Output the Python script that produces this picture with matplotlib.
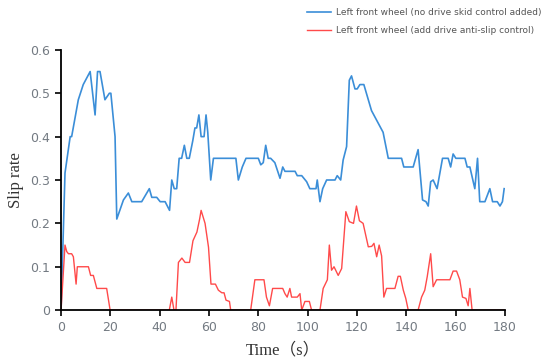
import numpy as np
import matplotlib
matplotlib.use("Agg")
import matplotlib.pyplot as plt

# no drive skid control (blue)
t_blue = [0, 1.6, 3.7, 4.3, 7, 9, 11.8, 13.8, 14.8, 15.8, 17.8, 19.6, 20.2, 21.9,
          22.6, 25.3, 27.3, 28.7, 32.7, 35.8, 36.8, 38.8, 40.2, 42.2, 44.0, 44.9,
          45.9, 46.9, 47.9, 48.9, 50.0, 51.0, 52.0, 53.4, 54.3, 55.0, 55.9, 56.8,
          58.0, 58.8, 59.5, 60.7, 61.8, 70.9, 71.9, 73.5, 75.0, 80.0, 81.0, 82.0,
          83.0, 84.0, 85.0, 86.7, 88.8, 89.9, 90.8, 94.9, 95.8, 97.6, 99.6, 100.9,
          103.4, 103.9, 105.0, 106.1, 107.7, 111.1, 112.0, 113.4, 114.4, 115.8,
          116.9, 117.8, 119.2, 120.1, 121.2, 122.8, 125.9, 130.6, 132.7, 138.1,
          139.0, 142.8, 144.8, 146.6, 148.0, 148.9, 149.9, 150.9, 152.5, 154.7,
          157.0, 158.0, 159.0, 160.1, 163.8, 164.7, 165.8, 167.8, 168.9, 169.8,
          171.9, 173.9, 175.0, 176.9, 178.0, 179.0, 179.7]
s_blue = [0, 0.316, 0.40, 0.40, 0.485, 0.52, 0.55, 0.45, 0.55, 0.55, 0.485, 0.50,
          0.50, 0.40, 0.21, 0.254, 0.27, 0.25, 0.25, 0.28, 0.26, 0.26, 0.25, 0.25,
          0.23, 0.30, 0.28, 0.28, 0.35, 0.35, 0.38, 0.35, 0.35, 0.39, 0.42, 0.42,
          0.45, 0.40, 0.40, 0.45, 0.41, 0.30, 0.35, 0.35, 0.30, 0.33, 0.35, 0.35,
          0.335, 0.34, 0.38, 0.35, 0.35, 0.34, 0.304, 0.33, 0.32, 0.32, 0.31, 0.31,
          0.296, 0.28, 0.28, 0.30, 0.25, 0.28, 0.30, 0.30, 0.31, 0.30, 0.346, 0.377,
          0.53, 0.54, 0.51, 0.51, 0.52, 0.52, 0.46, 0.41, 0.35, 0.35, 0.33, 0.33,
          0.37, 0.254, 0.25, 0.24, 0.296, 0.30, 0.28, 0.35, 0.35, 0.33, 0.36, 0.35,
          0.35, 0.33, 0.33, 0.28, 0.35, 0.25, 0.25, 0.28, 0.25, 0.25, 0.24, 0.25,
          0.28]

# with drive anti-slip control (red)
t_red = [0, 1.6, 2.3, 3.0, 4.3, 5.0, 6.1, 6.6, 11.1, 12.0, 13.1, 14.5, 18.5, 19.9,
         43.9, 44.9, 45.8, 46.6, 47.6, 49.0, 50.3, 52.1, 53.5, 55.1, 56.2, 56.8,
         58.4, 59.8, 60.8, 62.6, 63.8, 65.2, 66.1, 66.9, 68.3, 68.8, 76.9, 78.6,
         82.3, 83.3, 84.5, 85.8, 89.9, 90.8, 91.7, 92.8, 93.5, 95.8, 96.9, 97.6,
         98.9, 100.7, 101.6, 105.0, 106.3, 108.0, 108.8, 109.7, 110.7, 112.4,
         113.8, 115.5, 116.9, 118.6, 119.8, 121.0, 122.5, 124.6, 126.0, 126.9,
         128.0, 129.0, 130.0, 130.9, 132.0, 135.4, 136.7, 137.6, 138.8, 139.8,
         140.8, 144.8, 146.2, 147.5, 148.5, 149.9, 150.9, 152.3, 157.7, 159.0,
         160.4, 161.7, 162.8, 164.2, 165.1, 165.8, 166.7, 180]
s_red = [0, 0.15, 0.135, 0.13, 0.13, 0.123, 0.06, 0.10, 0.10, 0.08, 0.08, 0.05,
         0.05, 0, 0, 0.03, 0, 0, 0.11, 0.12, 0.11, 0.11, 0.16, 0.18, 0.21, 0.23,
         0.20, 0.145, 0.06, 0.06, 0.046, 0.04, 0.04, 0.023, 0.02, 0, 0, 0.07,
         0.07, 0.03, 0.01, 0.05, 0.05, 0.038, 0.03, 0.05, 0.03, 0.03, 0.038, 0,
         0.02, 0.02, 0, 0, 0.05, 0.07, 0.15, 0.092, 0.10, 0.08, 0.096, 0.227,
         0.204, 0.20, 0.24, 0.206, 0.20, 0.146, 0.147, 0.154, 0.123, 0.15, 0.125,
         0.03, 0.05, 0.05, 0.078, 0.078, 0.046, 0.027, 0, 0, 0.03, 0.046, 0.077,
         0.13, 0.054, 0.07, 0.07, 0.09, 0.09, 0.07, 0.03, 0.027, 0.01, 0.05, 0, 0]

x_ticks = [0, 20, 40, 60, 80, 100, 120, 140, 160, 180]
y_ticks = [0, 0.1, 0.2, 0.3, 0.4, 0.5, 0.6]
y_tick_labels = ["0", "0.1", "0.2", "0.3", "0.4", "0.5", "0.6"]

fig = plt.figure(figsize=(5.5, 3.64), dpi=100)
ax = fig.add_axes([0.111, 0.148, 0.807, 0.715])

ax.plot(t_blue, s_blue, color="#3b8ed8", lw=1.2, solid_joinstyle="round",
        label="Left front wheel (no drive skid control added)")
ax.plot(t_red, s_red, color="#ff4a4a", lw=1.0, solid_joinstyle="round",
        label="Left front wheel (add drive anti-slip control)")

ax.set_xlim(0, 180)
ax.set_ylim(0, 0.6)
ax.set_xticks(x_ticks)
ax.set_yticks(y_ticks)
ax.set_yticklabels(y_tick_labels)
ax.spines["top"].set_visible(False)
ax.spines["right"].set_visible(False)
ax.spines["left"].set_linewidth(1.3)
ax.spines["bottom"].set_linewidth(1.3)
ax.tick_params(direction="out", length=4, width=1.2, labelsize=9,
               labelcolor="#737a82", pad=4)

ax.set_xlabel("Time（s）", fontsize=12, family=["Liberation Serif", "Noto Sans CJK SC"],
              color="#333333", labelpad=6)
ax.set_ylabel("Slip rate", fontsize=12, family=["Liberation Serif"], color="#333333")
ax.yaxis.set_label_coords(-0.083, 0.5)

fig.legend(loc="upper right", bbox_to_anchor=(1.0, 1.0), frameon=False,
           fontsize=6.5, labelcolor="#555555", handlelength=2.6, handletextpad=0.6,
           labelspacing=1.0)

fig.savefig("out.png", dpi=100)
